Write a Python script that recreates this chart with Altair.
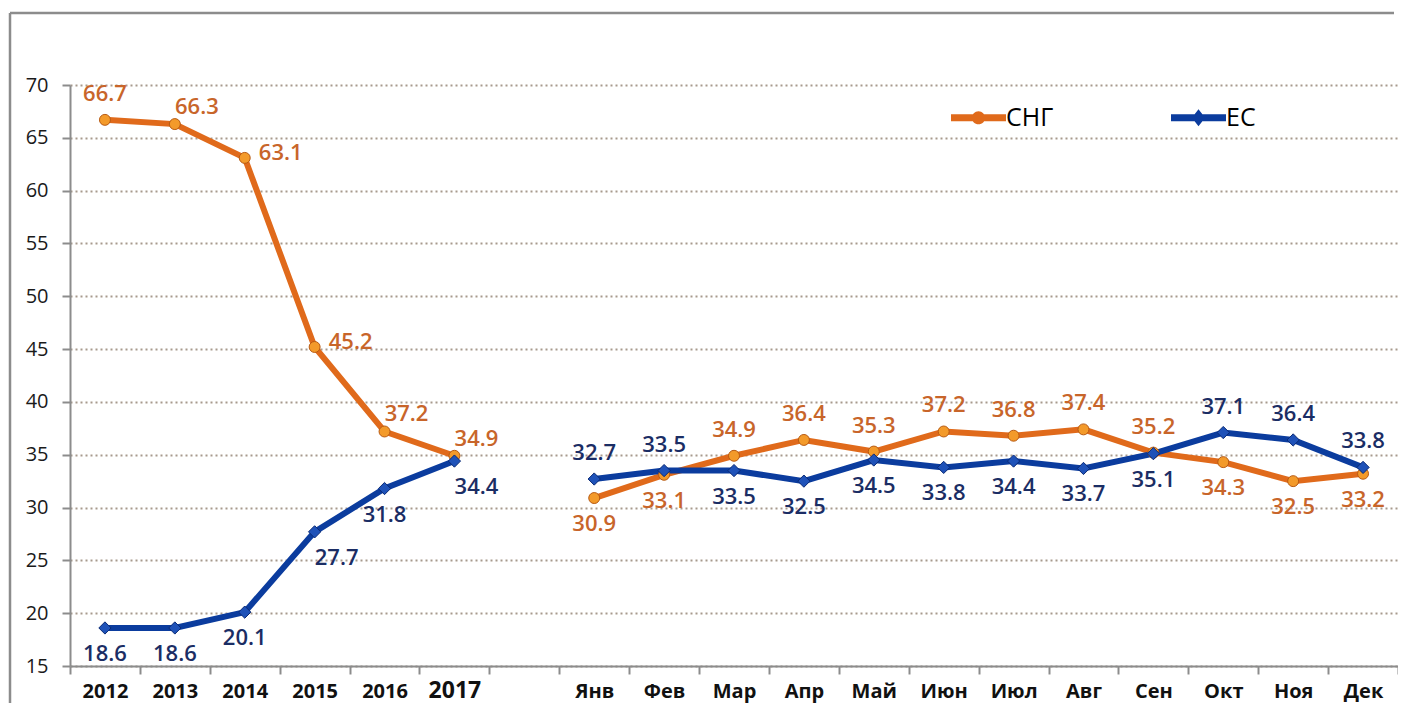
import altair as alt
import pandas as pd

# ---------------- data ----------------
years = ["2012", "2013", "2014", "2015", "2016", "2017"]
months = ["Янв", "Фев", "Мар", "Апр", "Май", "Июн", "Июл", "Авг", "Сен", "Окт", "Ноя", "Дек"]
gap = [" "]
categories = years + gap + months

series_names = ["СНГ", "ЕС"]

cis_years = [66.7, 66.3, 63.1, 45.2, 37.2, 34.9]
eu_years = [18.6, 18.6, 20.1, 27.7, 31.8, 34.4]
cis_months = [30.9, 33.1, 34.9, 36.4, 35.3, 37.2, 36.8, 37.4, 35.2, 34.3, 32.5, 33.2]
eu_months = [32.7, 33.5, 33.5, 32.5, 34.5, 33.8, 34.4, 33.7, 35.1, 37.1, 36.4, 33.8]

# label placement keys (styling only)
cis_year_place = ["a", "ar", "r", "r", "ar", "ar"]
eu_year_place = ["b", "b", "b", "br", "b", "br"]
cis_month_place = ["b", "b", "a", "a", "a", "a", "a", "a", "a", "b", "b", "b"]
eu_month_place = ["a", "a", "b", "b", "b", "b", "b", "b", "b", "a", "a", "a"]

PLACE = {"a": (0, -26), "b": (0, 26), "ar": (22, -17), "r": (36, -5), "br": (22, 26)}

rows = []
for name, yv, mv, yp, mp in [
    ("СНГ", cis_years, cis_months, cis_year_place, cis_month_place),
    ("ЕС", eu_years, eu_months, eu_year_place, eu_month_place),
]:
    for c, v, p in zip(years, yv, yp):
        rows.append({"cat": c, "period": "year", "series": name, "value": v, "place": p})
    for c, v, p in zip(months, mv, mp):
        rows.append({"cat": c, "period": "month", "series": name, "value": v, "place": p})
df = pd.DataFrame(rows)

# ---------------- style ----------------
FONT = "Open Sans"
STYLE = {
    "СНГ": dict(line="#e06a1b", text="#c8652a", fill="#f39a2a", stroke="#b85a12", shape="circle", size=120),
    "ЕС": dict(line="#0b3c9e", text="#1b2d64", fill="#1f52b8", stroke="#0a2a75", shape="diamond", size=150),
}
PATH_CIS = ("M-1,-0.13H1V0.13H-1Z "
            "M-0.24,0A0.24,0.24 0 1,1 0.24,0A0.24,0.24 0 1,1 -0.24,0Z")
PATH_EU = "M-1,-0.13H1V0.13H-1Z M0,-0.31L0.24,0L0,0.31L-0.24,0Z"

W, H = 1328, 581
PAD = {"left": 62, "top": 77, "right": 0, "bottom": 37}

x_axis = alt.Axis(
    title=None, labelAngle=0, tickBand="extent", grid=False,
    domainColor="#8c8c8c", domainWidth=2, tickColor="#8c8c8c", tickWidth=2, tickSize=8,
    labelFont=FONT, labelFontWeight="bold", labelColor="#111111",
    labelFontSize={"condition": {"test": "datum.value == '2017'", "value": 23}, "value": 20},
    labelBaseline="alphabetic", labelPadding=23,
)
y_axis = alt.Axis(
    title=None, values=list(range(15, 75, 5)), grid=True,
    gridColor="#a79a8d", gridDash=[2, 3], gridWidth=2,
    domainColor="#8c8c8c", domainWidth=2, tickColor="#8c8c8c", tickWidth=2, tickSize=8,
    labelFont=FONT, labelFontSize=20, labelColor="#1a1a1a", labelPadding=14,
)

X = alt.X("cat:N", title=None, bandPosition=0.5,
          scale=alt.Scale(type="band", domain=categories, paddingInner=0, paddingOuter=0),
          axis=x_axis)
Y = alt.Y("value:Q", title=None,
          scale=alt.Scale(domain=[15, 70], nice=False, zero=False), axis=y_axis)

leg = alt.Legend(
    title=None, orient="none", legendX=881, legendY=5, direction="horizontal",
    symbolSize=3025, symbolOpacity=1, symbolStrokeWidth=0,
    labelFont=FONT, labelFontSize=25, labelColor="#000000", labelOffset=0,
    columnPadding=117,
)

base = alt.Chart(df)

# outer frame: only its top and left edges are visible in the reference
one = alt.Data(values=[{}])
frame_top = alt.Chart(one).mark_rule(stroke="#8c8c8c", strokeWidth=2.5).encode(
    x=alt.value(-60), x2=alt.value(W - 4), y=alt.value(-72))
frame_left = alt.Chart(one).mark_rule(stroke="#8c8c8c", strokeWidth=2.5).encode(
    x=alt.value(-60), y=alt.value(-72), y2=alt.value(H + PAD["bottom"]))

legend_layer = base.mark_point(filled=True, opacity=0).encode(
    x=X, y=Y,
    color=alt.Color("series:N", scale=alt.Scale(domain=series_names,
                    range=[STYLE["СНГ"]["line"], STYLE["ЕС"]["line"]]), legend=leg),
    shape=alt.Shape("series:N", scale=alt.Scale(domain=series_names,
                    range=[PATH_CIS, PATH_EU]), legend=leg),
)

layers = [frame_top, frame_left, legend_layer]
for name in series_names:
    s = STYLE[name]
    sub = base.transform_filter(alt.datum.series == name)
    layers.append(sub.mark_line(color=s["line"], strokeWidth=6).encode(
        x=X, y=Y, detail="period:N"))
for name in series_names:
    s = STYLE[name]
    sub = base.transform_filter(alt.datum.series == name)
    layers.append(sub.mark_point(shape=s["shape"], filled=True, fill=s["fill"],
                                 stroke=s["stroke"], strokeWidth=1, size=s["size"],
                                 opacity=1).encode(x=X, y=Y))
for name in series_names:
    s = STYLE[name]
    for key, (dx, dy) in PLACE.items():
        sub = base.transform_filter((alt.datum.series == name) & (alt.datum.place == key))
        layers.append(sub.mark_text(dx=dx, dy=dy, font=FONT, fontSize=22, fontWeight=600,
                                    color=s["text"], baseline="middle", align="center").encode(
            x=X, y=Y, text=alt.Text("value:Q", format=".1f")))

chart = alt.layer(*layers).properties(
    width=W, height=H,
    autosize=alt.AutoSizeParams(type="none"),
    padding=PAD,
).configure(font=FONT).configure_view(strokeWidth=0)

chart.save("out.html", embed_options={"renderer": "svg", "actions": False})
